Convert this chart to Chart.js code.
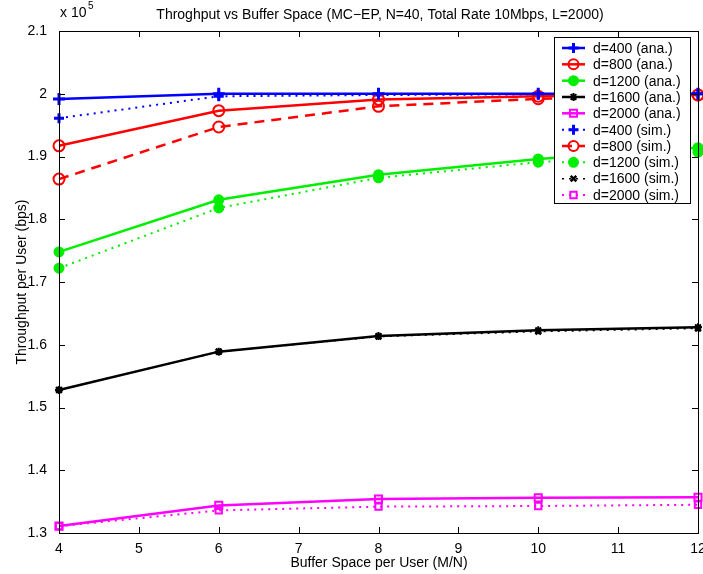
<!DOCTYPE html>
<html>
<head>
<meta charset="utf-8">
<script src="https://cdn.jsdelivr.net/npm/chart.js@4/dist/chart.umd.min.js"></script>
<style>
  html, body { margin: 0; padding: 0; background: #fff; }
</style>
</head>
<body>
<canvas id="chart" width="703" height="574"></canvas>
<script>
// x values: buffer space per user (M/N)
const bufferSpace = [4, 6, 8, 10, 12];

// throughput per user (bps), analytical
const ana400 = [199160, 200000, 200000, 200000, 200000];
const ana800 = [191700, 197300, 199100, 199600, 199800];
const ana1200 = [174800, 183100, 187100, 189600, 191400];
const ana1600 = [152800, 158900, 161400, 162300, 162800];
const ana2000 = [131100, 134400, 135400, 135600, 135700];

// throughput per user (bps), simulation
const sim400 = [196100, 199600, 199800, 199900, 200000];
const sim800 = [186400, 194700, 198000, 199200, 199800];
const sim1200 = [172200, 181800, 186600, 189100, 190700];
const sim1600 = [152800, 158900, 161300, 162100, 162600];
const sim2000 = [131100, 133600, 134200, 134300, 134500];

const yTicks = [1.3, 1.4, 1.5, 1.6, 1.7, 1.8, 1.9, 2, 2.1];

const FONT = "'Liberation Sans', Arial, sans-serif";

const toPoints = (ys) => bufferSpace.map((x, i) => ({ x: x, y: ys[i] }));

const makeSet = (label, ys, color, opts) => Object.assign({
  label: label,
  data: toPoints(ys),
  borderColor: color,
  backgroundColor: color,
  pointBorderColor: color,
  pointBackgroundColor: color,
  borderWidth: 2.5,
  pointRadius: 5,
  pointBorderWidth: 2,
  tension: 0,
  clip: false,
}, opts);

const datasets = [
  makeSet("d=400 (ana.)", ana400, "#0000ff", { pointStyle: "cross", pointRadius: 6, pointBorderWidth: 3 }),
  makeSet("d=800 (ana.)", ana800, "#ff0000", { pointStyle: "circle", pointRadius: 5.5, pointBackgroundColor: "rgba(0,0,0,0)" }),
  makeSet("d=1200 (ana.)", ana1200, "#00ee00", { pointStyle: "circle", pointRadius: 4.5 }),
  makeSet("d=1600 (ana.)", ana1600, "#000000", { pointStyle: "star", pointRadius: 4 }),
  makeSet("d=2000 (ana.)", ana2000, "#ff00ff", { pointStyle: "rect", pointRadius: 5, pointBackgroundColor: "rgba(0,0,0,0)" }),
  makeSet("d=400 (sim.)", sim400, "#0000ff", { pointStyle: "cross", pointRadius: 5, pointBorderWidth: 3, borderWidth: 2, borderDash: [2, 5] }),
  makeSet("d=800 (sim.)", sim800, "#ff0000", { pointStyle: "circle", pointRadius: 5.5, pointBackgroundColor: "rgba(0,0,0,0)", borderDash: [10, 7] }),
  makeSet("d=1200 (sim.)", sim1200, "#00ee00", { pointStyle: "circle", pointRadius: 4.5, borderWidth: 2, borderDash: [2, 5] }),
  makeSet("d=1600 (sim.)", sim1600, "#000000", { pointStyle: "crossRot", pointRadius: 4, pointBorderWidth: 2.5, borderWidth: 1.5, borderDash: [2, 5] }),
  makeSet("d=2000 (sim.)", sim2000, "#ff00ff", { pointStyle: "rect", pointRadius: 4.5, pointBackgroundColor: "rgba(0,0,0,0)", borderWidth: 2, borderDash: [2, 5] }),
];

// MATLAB-like frame, inward ticks, labels, legend
const matlabFrame = {
  id: "matlabFrame",
  afterDraw(chart) {
    const ctx = chart.ctx;
    const a = chart.chartArea;
    const xs = chart.scales.x;
    const ys = chart.scales.y;
    ctx.save();
    ctx.strokeStyle = "#000";
    ctx.lineWidth = 1;
    ctx.strokeRect(Math.round(a.left) + 0.5, Math.round(a.top) + 0.5,
      Math.round(a.right - a.left), Math.round(a.bottom - a.top));
    ctx.beginPath();
    xs.ticks.forEach((t) => {
      const px = Math.round(xs.getPixelForValue(t.value)) + 0.5;
      ctx.moveTo(px, a.bottom); ctx.lineTo(px, a.bottom - 6);
      ctx.moveTo(px, a.top); ctx.lineTo(px, a.top + 6);
    });
    ys.ticks.forEach((t) => {
      const py = Math.round(ys.getPixelForValue(t.value)) + 0.5;
      ctx.moveTo(a.left, py); ctx.lineTo(a.left + 6, py);
      ctx.moveTo(a.right, py); ctx.lineTo(a.right - 6, py);
    });
    ctx.stroke();

    // title and axis titles
    ctx.fillStyle = "#000";
    ctx.font = "14px " + FONT;
    ctx.textAlign = "center";
    ctx.textBaseline = "middle";
    ctx.fillText("Throghput vs Buffer Space (MC\u2212EP, N=40, Total Rate 10Mbps, L=2000)", 380, 15);
    ctx.fillText("Buffer Space per User (M/N)", 379, 563);
    ctx.save();
    ctx.translate(22, 282);
    ctx.rotate(-Math.PI / 2);
    ctx.fillText("Throughput per User (bps)", 0, 0);
    ctx.restore();

    // exponent label
    ctx.textAlign = "left";
    ctx.fillText("x 10", 60, 13);
    ctx.font = "10px " + FONT;
    ctx.fillText("5", 88, 6);

    // legend
    const lx = 554, ly = 37, lw = 136, lh = 166;
    ctx.fillStyle = "#fff";
    ctx.fillRect(lx, ly, lw, lh);
    ctx.strokeRect(lx + 0.5, ly + 0.5, lw, lh);
    ctx.font = "14px " + FONT;
    chart.data.datasets.forEach((ds, i) => {
      const cy = ly + 11 + i * 16.33;
      ctx.save();
      ctx.strokeStyle = ds.borderColor;
      ctx.lineWidth = ds.borderWidth;
      ctx.setLineDash(ds.borderDash || []);
      ctx.beginPath();
      ctx.moveTo(lx + 8, cy);
      ctx.lineTo(lx + 31, cy);
      ctx.stroke();
      ctx.setLineDash([]);
      ctx.strokeStyle = ds.pointBorderColor;
      ctx.fillStyle = ds.pointBackgroundColor;
      ctx.lineWidth = ds.pointBorderWidth;
      Chart.helpers.drawPoint(ctx, {
        pointStyle: ds.pointStyle,
        radius: Math.min(ds.pointRadius, 5),
        borderWidth: ds.pointBorderWidth,
        rotation: 0,
      }, lx + 19.5, cy);
      ctx.restore();
      ctx.fillStyle = "#000";
      ctx.textAlign = "left";
      ctx.fillText(ds.label, lx + 39, cy + 1);
    });
    ctx.restore();
  },
};

new Chart(document.getElementById("chart"), {
  type: "line",
  data: { datasets: datasets },
  options: {
    responsive: false,
    animation: false,
    layout: { autoPadding: false, padding: { left: 0, right: 5, top: 31, bottom: 0 } },
    plugins: {
      legend: { display: false },
      tooltip: { enabled: false },
    },
    scales: {
      x: {
        type: "linear",
        min: 4,
        max: 12,
        grid: { display: false },
        border: { display: false },
        ticks: {
          stepSize: 1,
          color: "#000",
          padding: 0,
          maxRotation: 0,
          font: { family: FONT, size: 14 },
        },
        afterFit(scale) {
          scale.height = 41;
          scale.paddingLeft = 0;
          scale.paddingRight = 0;
        },
      },
      y: {
        type: "linear",
        min: 130000,
        max: 210000,
        grid: { display: false },
        border: { display: false },
        afterBuildTicks(scale) {
          scale.ticks = yTicks.map((v) => ({ value: v * 1e5 }));
        },
        ticks: {
          color: "#000",
          padding: 4,
          font: { family: FONT, size: 14 },
          callback: (v) => String(Math.round(v / 1e4) / 10),
        },
        afterFit(scale) {
          scale.width = 59;
          scale.paddingTop = 0;
          scale.paddingBottom = 0;
        },
      },
    },
  },
  plugins: [matlabFrame],
});
</script>
</body>
</html>
